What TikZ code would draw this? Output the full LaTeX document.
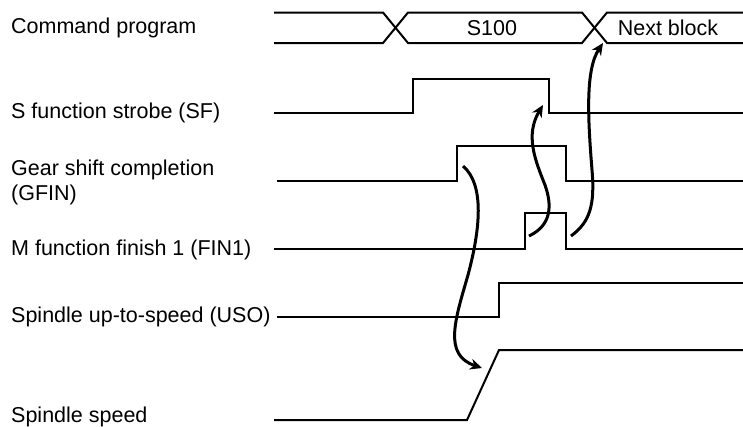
\documentclass[tikz,border=0pt]{standalone}
\usepackage{fontspec}
\setmainfont{Liberation Sans}
\usetikzlibrary{arrows.meta}
\begin{document}
\begin{tikzpicture}[x=1pt,y=-1pt,
  sig/.style={line width=2pt,line join=miter},
  lbl/.style={anchor=base west,inner sep=0pt,font=\fontsize{21.5}{25}\selectfont,align=left},
  buslbl/.style={inner sep=0pt,font=\fontsize{21.5}{25}\selectfont},
  cause/.style={line width=3pt,-{Stealth[length=12pt,width=11pt]}}]
\useasboundingbox (0,0) rectangle (743,426);
% labels
\node[lbl] (lcmd) at (11,33) {Command program};
\node[lbl] (lsf) at (11,118) {S function strobe (SF)};
\node[lbl] (lgf) at (11,200) {Gear shift completion\\(GFIN)};
\node[lbl] (lfin) at (11,255) {M function finish 1 (FIN1)};
\node[lbl] (luso) at (11,322) {Spindle up-to-speed (USO)};
\node[lbl] (lsp) at (11,422) {Spindle speed};
% command program bus
\draw[sig] (274,12.5) -- (383,12.5) -- (408,43) -- (582,43) -- (607,12.5) -- (743,12.5);
\draw[sig] (274,43) -- (383,43) -- (408,12.5) -- (582,12.5) -- (607,43) -- (743,43);
\node[buslbl] (s100) at (492,28) {S100};
\node[buslbl] (nxt) at (668,28) {Next block};
% SF
\draw[sig] (274,113) -- (413,113) -- (413,79) -- (549,79) -- (549,113) -- (743,113);
% GFIN
\draw[sig] (277,181) -- (457,181) -- (457,146) -- (566,146) -- (566,181) -- (743,181);
% FIN1
\draw[sig] (274,249) -- (525,249) -- (525,213) -- (566,213) -- (566,249) -- (743,249);
% USO
\draw[sig] (277,317) -- (499,317) -- (499,283) -- (743,283);
% Spindle speed
\draw[sig] (274,420) -- (467,420) -- (499,350) -- (743,350);
% cause arrows
\coordinate (a1s) at (463,166);
\coordinate (a1e) at (482,368);
\coordinate (a2s) at (529,236);
\coordinate (a2e) at (543,105);
\coordinate (a3s) at (571,236);
\coordinate (a3e) at (603,43);
\draw[cause] (a1s) .. controls (485,185) and (480,230) .. (468,275)
  .. controls (455,320) and (443,355) .. (a1e);
\draw[cause] (a2s) .. controls (552,225) and (552,205) .. (545,185)
  .. controls (535,160) and (525,135) .. (a2e);
\draw[cause] (a3s) .. controls (590,222) and (595,205) .. (592,170)
  .. controls (588,120) and (585,70) .. (a3e);
\end{tikzpicture}
\end{document}
